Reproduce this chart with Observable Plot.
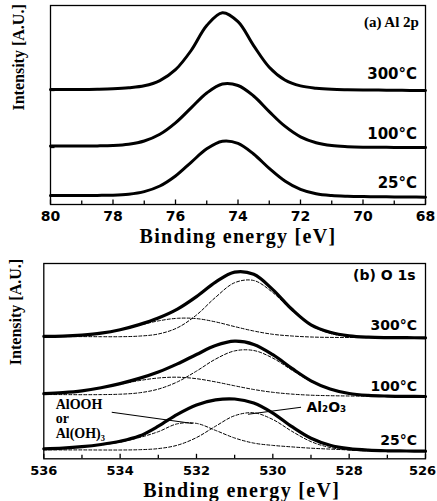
<!DOCTYPE html>
<html><head><meta charset="utf-8">
<script src="https://cdn.jsdelivr.net/npm/d3@7"></script>
<script src="https://cdn.jsdelivr.net/npm/@observablehq/plot@0.6"></script>
<style>
html,body{margin:0;padding:0;background:#fff}
#chart svg{display:block;background:#fff}
</style>
</head><body><div id="chart"></div>
<script>
// ---------- Panel (a) Al 2p ----------
const energyA = [80,79.5,79,78.5,78,77.5,77,76.5,76,75.5,75,74.5,74,73.5,73,72.5,72,71.5,71,70.5,70,69.5,69,68.5,68];
const al2p300 = [115,115,115,115.3,115.8,116.8,118.7,123.9,134.8,154,179,191.8,182.8,158.9,137.3,124.5,118.6,116.3,115.2,114.8,114.6,114.4,114.3,114.1,114];
const al2p100 = [58.5,58.5,58.5,58.6,59.0,60.3,63.5,70.2,81.6,96.6,111.5,120.5,119.0,108.5,92.9,78.3,67.7,61.8,58.9,57.8,57.3,57.2,57.1,57,57];
const al2p25  = [9,9,9,9.1,9.3,10.3,12.9,18.5,28.5,42.2,55.7,63.3,61.2,50.5,36.1,23.5,15.1,10.7,8.9,8.2,7.9,7.8,7.6,7.5,7.3];
const majorTicksA = [80,78,76,74,72,70,68];
const minorTicksA = [79,77,75,73,71,69];
const yTicksA = [57,114];
const tempLabels = ["300°C","100°C","25°C"];
const tempYA = [130,70,21.7];
const panelLabelA = "(a) Al 2p";

// ---------- Panel (b) O 1s ----------
const energyB = [536,535.5,535,534.5,534,533.5,533,532.5,532,531.5,531,530.5,530,529.5,529,528.5,528,527.5,527,526.5,526];
const o1s300       = [124.2,124.4,125.4,127.3,130.8,135.9,142.5,151.4,163.9,178.4,188.4,186.2,170.9,151.2,135.6,128.2,124.6,123.3,122.9,122.8,122.7];
const o1s300Al2O3  = [124.0,123.9,123.9,123.8,123.8,124.4,126.5,132.7,145.5,163.2,177.8,180.0,167.9,149.9,135.2,127.1,124.1,123.1,122.8,122.8,122.7];
const o1s300AlOOH  = [124.2,124.4,125.4,127.3,130.7,135.2,139.6,142.2,141.9,138.6,133.9,129.5,126.2,124.5,123.5,123.1,123.0,122.9,122.8,122.8,122.7];
const o1s100       = [66.9,67.9,69.7,72.8,76.9,82.1,88.5,96.6,106.0,114.9,119.3,116.1,105.8,92.1,79.7,71.5,67.0,65.1,64.4,64.1,64.0];
const o1s100Al2O3  = [66.0,65.9,65.8,65.9,66.3,67.7,71.4,78.6,89.4,101.4,109.6,110.0,102.4,90.4,79.0,71.2,66.9,65.1,64.4,64.1,64.0];
const o1s100AlOOH  = [66.9,67.9,69.7,72.6,76.2,79.9,82.5,83.3,81.8,78.6,74.7,71.0,68.2,66.4,65.3,64.8,64.5,64.3,64.2,64.1,64.0];
const o1s25        = [11.7,12.4,13.8,16.0,19.2,24.4,34.3,46.2,55.6,60.6,61.5,57.4,47.4,33.8,22.2,15.2,11.8,10.3,9.7,9.5,9.3];
const o1s25Al2O3   = [10.7,10.6,10.6,10.5,10.5,10.8,11.9,15.3,22.9,34.3,44.8,47.7,41.0,29.2,18.9,13.0,10.5,9.7,9.4,9.4,9.3];
const o1s25AlOOH   = [11.7,12.4,13.6,15.5,18.4,22.9,28.8,36.7,37.1,30.1,22.5,17.4,15.1,13.6,12.3,11.4,10.6,10.0,9.6,9.4,9.3];
const majorTicksB = [536,534,532,530,528];
const lastTickB = [526];
const minorTicksB = [535,533,531,529,527];
const tempYB = [135,74.3,20];
const panelLabelB = "(b) O 1s";
const speciesLabels = ["AlOOH","or","Al(OH)₃"];
const speciesE = 535.69;
const speciesY = [56,41.7,26.7];
const oxideLabel = "Al₂O₃";
const oxideE = 529.12, oxideY = 53.3;
const pointerLines = [
  {e1: 534.22, v1: 48.3, e2: 532.1, v2: 37.0},
  {e1: 530.65, v1: 46.3, e2: 529.26, v2: 53.3}
];

const xLabel = "Binding energy [eV]";
const yLabel = "Intensity [A.U.]";

const SANS = "DejaVu Sans";
const SERIF = "Liberation Serif";

function rows(energy, values, series) {
  return energy.map((e, i) => ({e, v: values[i], series}));
}

// Panel A
const WA = 437, HA = 250, mLA = 50, mRA = 12, mTA = 5, mBA = 46;
const innerHA = HA - mTA - mBA, innerWA = WA - mLA - mRA;
const dataA = [
  ...rows(energyA, al2p300, "300"),
  ...rows(energyA, al2p100, "100"),
  ...rows(energyA, al2p25, "25")
];
const plotA = Plot.plot({
  width: WA, height: HA,
  marginLeft: mLA, marginRight: mRA, marginTop: mTA, marginBottom: mBA,
  x: {domain: [80, 68]},
  y: {domain: [0, 199], axis: null},
  style: {background: "white", color: "black"},
  marks: [
    Plot.frame({stroke: "black", strokeWidth: 1.3}),
    Plot.tickX(majorTicksA, {x: d => d, insetTop: innerHA - 4.5, strokeWidth: 1.3}),
    Plot.tickX(minorTicksA, {x: d => d, insetTop: innerHA - 3.5, strokeWidth: 1.3}),
    Plot.tickY(yTicksA, {y: d => d, insetRight: innerWA - 4.5, strokeWidth: 1.3}),
    Plot.axisX({ticks: majorTicksA, tickSize: 0, tickPadding: 7, tickFormat: d => String(d),
      fontFamily: SANS, fontSize: 14, fontWeight: "bold", label: null}),
    Plot.line(dataA, {x: "e", y: "v", z: "series", stroke: "black", strokeWidth: 3, curve: "catmull-rom"}),
    Plot.text(tempLabels, {x: () => 68.27, y: (d, i) => tempYA[i], text: d => d, textAnchor: "end",
      fontFamily: SANS, fontSize: 15, fontWeight: "bold"}),
    Plot.text([panelLabelA], {x: () => 68.21, y: () => 182.3, text: d => d, textAnchor: "end",
      fontFamily: SERIF, fontSize: 15, fontWeight: "bold"}),
    Plot.text([xLabel], {frameAnchor: "bottom", dy: 38, lineAnchor: "bottom", text: d => d,
      fontFamily: SERIF, fontSize: 20, fontWeight: "bold"}),
    Plot.text([yLabel], {frameAnchor: "left", dx: -32, dy: 5.5, rotate: -90, text: d => d,
      fontFamily: SERIF, fontSize: 16, fontWeight: "bold"})
  ]
});

// Panel B
const WB = 437, HB = 251, mLB = 43.3, mRB = 12, mTB = 13, mBB = 42.7;
const innerHB = HB - mTB - mBB;
const envB = [
  ...rows(energyB, o1s300, "300"),
  ...rows(energyB, o1s100, "100"),
  ...rows(energyB, o1s25, "25")
];
const compB = [
  ...rows(energyB, o1s300Al2O3, "300a"),
  ...rows(energyB, o1s300AlOOH, "300b"),
  ...rows(energyB, o1s100Al2O3, "100a"),
  ...rows(energyB, o1s100AlOOH, "100b"),
  ...rows(energyB, o1s25Al2O3, "25a"),
  ...rows(energyB, o1s25AlOOH, "25b")
];
const plotB = Plot.plot({
  width: WB, height: HB,
  marginLeft: mLB, marginRight: mRB, marginTop: mTB, marginBottom: mBB,
  x: {domain: [536, 526]},
  y: {domain: [1.7, 197], axis: null},
  style: {background: "white", color: "black"},
  marks: [
    Plot.frame({stroke: "black", strokeWidth: 1.3}),
    Plot.tickX([...majorTicksB, ...lastTickB], {x: d => d, insetTop: innerHB - 4.5, strokeWidth: 1.3}),
    Plot.tickX(minorTicksB, {x: d => d, insetTop: innerHB - 3.5, strokeWidth: 1.3}),
    Plot.axisX({ticks: majorTicksB, tickSize: 0, tickPadding: 6.5, tickFormat: d => String(d),
      fontFamily: SANS, fontSize: 13, fontWeight: "bold", label: null}),
    Plot.text(lastTickB, {x: d => d, frameAnchor: "bottom", lineAnchor: "top", dy: 6.5, dx: -3,
      text: d => String(d), fontFamily: SANS, fontSize: 13, fontWeight: "bold"}),
    Plot.line(compB, {x: "e", y: "v", z: "series", stroke: "black", strokeWidth: 1, strokeDasharray: "3,2", curve: "catmull-rom"}),
    Plot.line(envB, {x: "e", y: "v", z: "series", stroke: "black", strokeWidth: 3.2, curve: "catmull-rom"}),
    Plot.link(pointerLines, {x1: "e1", y1: "v1", x2: "e2", y2: "v2", stroke: "black", strokeWidth: 1.1}),
    Plot.text(speciesLabels, {x: () => speciesE, y: (d, i) => speciesY[i], text: d => d, textAnchor: "start",
      fontFamily: SERIF, fontSize: 14, fontWeight: "bold"}),
    Plot.text([oxideLabel], {x: () => oxideE, y: () => oxideY, text: d => d, textAnchor: "start",
      fontFamily: SANS, fontSize: 14, fontWeight: "bold"}),
    Plot.text(tempLabels, {x: () => 526.22, y: (d, i) => tempYB[i], text: d => d, textAnchor: "end",
      fontFamily: SANS, fontSize: 14, fontWeight: "bold"}),
    Plot.text([panelLabelB], {x: () => 526.26, y: () => 185, text: d => d, textAnchor: "end",
      fontFamily: SANS, fontSize: 14, fontWeight: "bold"}),
    Plot.text([xLabel], {frameAnchor: "bottom", dx: 7, dy: 37.7, lineAnchor: "bottom", text: d => d,
      fontFamily: SERIF, fontSize: 20, fontWeight: "bold"}),
    Plot.text([yLabel], {frameAnchor: "left", dx: -28, dy: 4, rotate: -90, text: d => d,
      fontFamily: SERIF, fontSize: 16, fontWeight: "bold"})
  ]
});

const host = document.getElementById("chart");
host.appendChild(plotA);
host.appendChild(plotB);
for (const t of host.querySelectorAll("text")) {
  if (t.textContent === xLabel) t.setAttribute("letter-spacing", "1.3");
}
</script>
</body></html>
